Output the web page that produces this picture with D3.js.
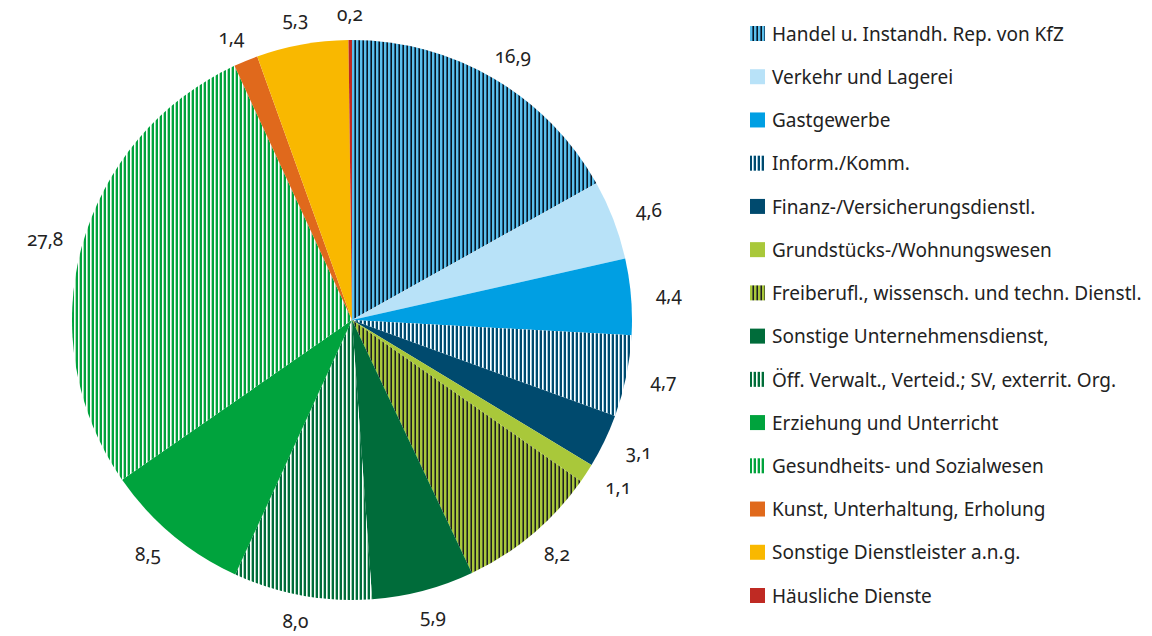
<!DOCTYPE html>
<html>
<head>
<meta charset="utf-8">
<script src="https://cdn.jsdelivr.net/npm/d3@7"></script>
<style>
  body { margin: 0; background: #fff; }
  svg text { font-family: "Noto Sans", "Open Sans", sans-serif; fill: #222; }
  .lbl { font-size: 19px; font-variant-numeric: oldstyle-nums; }
  .legend { font-size: 19px; }
</style>
</head>
<body>
<div id="chart"></div>
<script>
// sectors, clockwise from 12 o'clock
const categories = [
  "Handel u. Instandh. Rep. von KfZ",
  "Verkehr und Lagerei",
  "Gastgewerbe",
  "Inform./Komm.",
  "Finanz-/Versicherungsdienstl.",
  "Grundstücks-/Wohnungswesen",
  "Freiberufl., wissensch. und techn. Dienstl.",
  "Sonstige Unternehmensdienst,",
  "Öff. Verwalt., Verteid.; SV, exterrit. Org.",
  "Erziehung und Unterricht",
  "Gesundheits- und Sozialwesen",
  "Kunst, Unterhaltung, Erholung",
  "Sonstige Dienstleister a.n.g.",
  "Häusliche Dienste"
];
const values = [16.9, 4.6, 4.4, 4.7, 3.1, 1.1, 8.2, 5.9, 8.0, 8.5, 27.8, 1.4, 5.3, 0.2];

// fill: plain colour or striped pattern [base, stripe1, stripe2]
const fills = [
  ["#5cc0ec", "#1f5a80", "#0b1620"],
  ["#b8e2f8"],
  ["#009fe3"],
  ["#004a6e", "#ffffff", "#9cc8dc"],
  ["#004a6e"],
  ["#a9c83a"],
  ["#a9c83a", "#5c6b34", "#1e1e1e"],
  ["#006c3a"],
  ["#006c3a", "#ffffff", "#9fd0b2"],
  ["#00a33d"],
  ["#00a33d", "#ffffff", "#a6dcb4"],
  ["#e0691c"],
  ["#f9b800"],
  ["#bf2a23"]
];

const W = 1152, H = 636;
const cx = 352, cy = 320, R = 280;

const svg = d3.select("#chart").append("svg")
  .attr("width", W).attr("height", H);

const defs = svg.append("defs");
const fillOf = (f, i) => {
  if (f.length === 1) return f[0];
  const p = defs.append("pattern")
    .attr("id", "pat" + i)
    .attr("patternUnits", "userSpaceOnUse")
    .attr("width", 4).attr("height", 8);
  p.append("rect").attr("width", 4).attr("height", 8).attr("fill", f[0]);
  p.append("rect").attr("x", 2).attr("width", 1).attr("height", 8).attr("fill", f[1]);
  p.append("rect").attr("x", 3).attr("width", 1).attr("height", 8).attr("fill", f[2]);
  return "url(#pat" + i + ")";
};
const fillList = fills.map(fillOf);

const pie = d3.pie().sort(null).value(d => d);
const arcs = pie(values);
const arc = d3.arc().innerRadius(0).outerRadius(R);

const g = svg.append("g").attr("transform", `translate(${cx},${cy})`);

g.selectAll("path")
  .data(arcs)
  .enter()
  .append("path")
  .attr("d", arc)
  .attr("fill", (d, i) => fillList[i]);

// data labels outside the pie, text box placed beyond the rim
const fmt = d3.formatLocale({ decimal: ",", thousands: ".", grouping: [3], currency: ["", "€"] }).format(".1f");
g.selectAll("text.lbl")
  .data(arcs)
  .enter()
  .append("text")
  .attr("class", "lbl")
  .attr("text-anchor", "middle")
  .attr("dy", "0.35em")
  .attr("transform", d => {
    const a = (d.startAngle + d.endAngle) / 2;
    const r0 = R + 18;
    const x = Math.sin(a) * r0 + Math.sin(a) * 20;
    const y = -Math.cos(a) * r0 - Math.cos(a) * 8;
    return `translate(${x},${y})`;
  })
  .text(d => fmt(d.data));

// legend
const legY = d3.scalePoint().domain(categories).range([34, 596]);
const leg = svg.append("g").attr("transform", "translate(750,0)");
const item = leg.selectAll("g")
  .data(categories)
  .enter()
  .append("g")
  .attr("transform", d => `translate(0,${legY(d)})`);

item.append("rect")
  .attr("x", 0).attr("y", -8)
  .attr("width", 15).attr("height", 15)
  .attr("fill", (d, i) => fillList[i]);

item.append("text")
  .attr("class", "legend")
  .attr("x", 22)
  .attr("dy", "0.35em")
  .text(d => d);
</script>
</body>
</html>
